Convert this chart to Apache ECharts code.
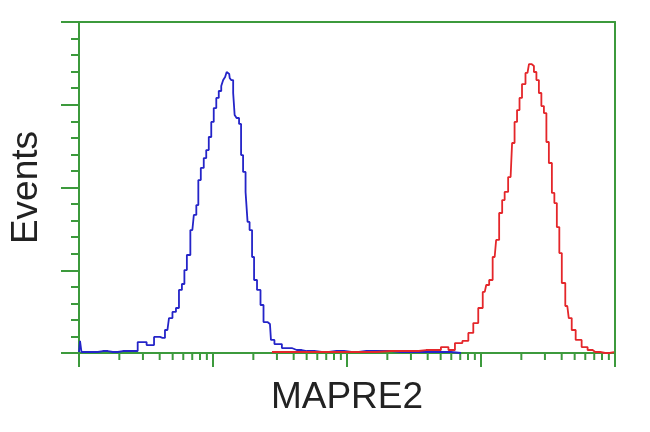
<!DOCTYPE html>
<html>
<head>
<meta charset="utf-8">
<script src="https://cdn.jsdelivr.net/npm/echarts@6/dist/echarts.min.js"></script>
<style>html,body{margin:0;padding:0;background:#fff;}#c{width:650px;height:432px;}</style>
</head>
<body>
<div id="c"></div>
<script>
// x values are log10 of channel (decades 0..4), y values are event counts
var blueX = [0.000,0.015,0.022,0.104,0.178,0.252,0.327,0.401,0.475,0.534,0.586,0.623,0.660,0.683,0.712,0.735,0.757,0.779,0.794,0.816,0.846,0.868,0.883,0.898,0.920,0.942,0.957,0.980,0.994,1.017,1.032,1.054,1.069,1.083,1.098,1.106,1.121,1.128,1.143,1.158,1.165,1.187,1.202,1.217,1.232,1.254,1.262,1.284,1.299,1.314,1.343,1.366,1.388,1.425,1.440,1.477,1.551,1.625,1.699,1.811,1.922,2.033,2.145,2.256,2.404,2.553,2.701,2.850];
var blueY = [0.6,7.3,0.6,0.6,1.2,0.6,1.2,1.2,6.6,4.8,9.7,9.1,13.9,21.1,24.8,27.2,38.1,41.7,50.1,59.2,74.3,83.4,89.4,104.5,111.8,117.8,122.6,130.5,139.6,148.0,154.1,158.3,161.3,164.9,166.8,169.8,168.6,166.2,164.9,157.1,143.8,142.0,138.4,119.6,109.4,97.3,79.2,74.3,58.0,44.1,38.1,29.0,18.7,17.5,7.9,5.4,3.0,1.8,1.2,0.6,1.2,0.6,1.2,1.2,0.6,0.6,0.6,0];
var redX = [1.440,1.662,1.885,2.108,2.330,2.479,2.590,2.664,2.738,2.776,2.835,2.887,2.924,2.961,2.998,3.028,3.050,3.072,3.102,3.124,3.147,3.169,3.184,3.221,3.243,3.258,3.280,3.295,3.317,3.347,3.369,3.384,3.406,3.421,3.443,3.458,3.481,3.495,3.518,3.540,3.555,3.577,3.592,3.614,3.644,3.666,3.688,3.725,3.777,3.814,3.852,3.926,3.993];
var redY = [0.6,0.6,0.6,0.6,1.2,1.2,1.8,1.8,3.6,1.8,6.0,7.3,12.1,18.1,27.2,36.9,41.1,44.1,58.0,68.3,84.6,92.4,97.3,106.3,126.9,139.6,146.8,154.1,162.5,169.2,174.6,173.4,169.8,164.9,157.1,149.2,145.0,127.5,114.8,96.7,90.6,76.1,60.4,42.3,28.4,21.1,13.9,7.9,3.6,1.8,0.6,0,0.6];
var decades = [0,1,2,3];
var minorMultipliers = [2,3,4,5,6,7,8,9];
var xName = 'MAPRE2';
var yName = 'Events';

function zip(xs, ys){ return xs.map(function(x,i){ return [x, ys[i]]; }); }
var minorTicks = [];
decades.forEach(function(d){ minorMultipliers.forEach(function(m){ minorTicks.push([d + Math.log10(m), 0]); }); });

var green = '#3c9a3c';
var chart = echarts.init(document.getElementById('c'), null, {renderer:'canvas'});
chart.setOption({
  animation:false,
  backgroundColor:'#fff',
  grid:{left:76, right:35, top:22, bottom:79},
  xAxis:[{
    type:'value', min:0, max:4, interval:1, position:'bottom',
    name:xName, nameLocation:'middle', nameGap:26,
    nameTextStyle:{fontFamily:'Liberation Sans', fontSize:37, color:'#222', verticalAlign:'top'},
    axisLine:{show:true, onZero:false, lineStyle:{color:green, width:2}},
    axisTick:{show:true, length:14, lineStyle:{color:green, width:2}},
    axisLabel:{show:false}, splitLine:{show:false}
  },{
    type:'value', min:0, max:4, position:'top',
    axisLine:{show:true, onZero:false, lineStyle:{color:green, width:2}},
    axisTick:{show:false}, axisLabel:{show:false}, splitLine:{show:false}
  }],
  yAxis:[{
    type:'value', min:0, max:200, interval:50, position:'left',
    name:yName, nameLocation:'middle', nameRotate:90, nameGap:34,
    nameTextStyle:{fontFamily:'Liberation Sans', fontSize:37, color:'#222'},
    axisLine:{show:true, onZero:false, lineStyle:{color:green, width:2}},
    axisTick:{show:true, length:18, lineStyle:{color:green, width:2}},
    minorTick:{show:true, splitNumber:5, length:8, lineStyle:{color:green, width:2}},
    axisLabel:{show:false}, splitLine:{show:false}
  },{
    type:'value', min:0, max:200, position:'right',
    axisLine:{show:true, onZero:false, lineStyle:{color:green, width:2}},
    axisTick:{show:false}, axisLabel:{show:false}, splitLine:{show:false}
  }],
  series:[{
    type:'line', data:zip(blueX, blueY), showSymbol:false, step:'middle',
    lineStyle:{color:'#2424c8', width:1.8}, z:3
  },{
    type:'line', data:zip(redX, redY), showSymbol:false, step:'middle',
    lineStyle:{color:'#e4262a', width:1.8}, z:3
  },{
    type:'custom', data:minorTicks, clip:false, z:1,
    renderItem:function(params, api){
      var p = api.coord([api.value(0), 0]);
      return {type:'line', shape:{x1:p[0], y1:p[1], x2:p[0], y2:p[1]+7}, style:{stroke:green, lineWidth:2}};
    }
  }]
});
</script>
</body>
</html>
